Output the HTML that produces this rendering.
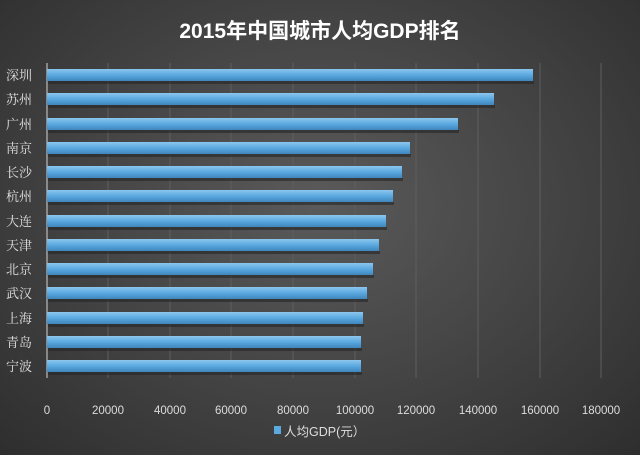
<!DOCTYPE html>
<html><head><meta charset="utf-8"><style>
body{margin:0;width:640px;height:455px;overflow:hidden;background:radial-gradient(ellipse at 50% 45%,#5a5a5a 0%,#474747 45%,#2e2e2e 100%);font-family:"Liberation Sans","Noto Sans CJK SC",sans-serif;}
</style></head><body>
<svg width="640" height="455" xmlns="http://www.w3.org/2000/svg" style="position:absolute;left:0;top:0">
<defs><linearGradient id="b" x1="0" y1="0" x2="0" y2="1"><stop offset="0" stop-color="#8cc6ee"/><stop offset="0.5" stop-color="#5aa9e0"/><stop offset="1" stop-color="#3f86bd"/></linearGradient></defs>
<text x="320" y="38" fill="#fff" font-size="21" font-weight="bold" text-anchor="middle" font-family="Liberation Sans,Noto Sans CJK SC,sans-serif">2015年中国城市人均GDP排名</text>
<g stroke="#5e5e5e" stroke-width="1">
<line x1="108" y1="63" x2="108" y2="378"/><line x1="170" y1="63" x2="170" y2="378"/><line x1="231" y1="63" x2="231" y2="378"/><line x1="293" y1="63" x2="293" y2="378"/><line x1="355" y1="63" x2="355" y2="378"/><line x1="416" y1="63" x2="416" y2="378"/><line x1="478" y1="63" x2="478" y2="378"/><line x1="540" y1="63" x2="540" y2="378"/><line x1="601" y1="63" x2="601" y2="378"/>
</g>
<g fill="#262626" opacity="0.6">
<rect x="48" y="81" width="486" height="3"/><rect x="48" y="105" width="447" height="3"/><rect x="48" y="130" width="411" height="3"/><rect x="48" y="154" width="363" height="3"/><rect x="48" y="178" width="355" height="3"/><rect x="48" y="202" width="346" height="3"/><rect x="48" y="227" width="339" height="3"/><rect x="48" y="251" width="332" height="3"/><rect x="48" y="275" width="326" height="3"/><rect x="48" y="299" width="320" height="3"/><rect x="48" y="324" width="316" height="3"/><rect x="48" y="348" width="314" height="3"/><rect x="48" y="372" width="314" height="3"/>
</g>
<line x1="47" y1="63" x2="47" y2="378" stroke="#bbb" stroke-width="1.2"/>
<g fill="url(#b)">
<rect x="47" y="69" width="486" height="12"/><rect x="47" y="93" width="447" height="12"/><rect x="47" y="118" width="411" height="12"/><rect x="47" y="142" width="363" height="12"/><rect x="47" y="166" width="355" height="12"/><rect x="47" y="190" width="346" height="12"/><rect x="47" y="215" width="339" height="12"/><rect x="47" y="239" width="332" height="12"/><rect x="47" y="263" width="326" height="12"/><rect x="47" y="287" width="320" height="12"/><rect x="47" y="312" width="316" height="12"/><rect x="47" y="336" width="314" height="12"/><rect x="47" y="360" width="314" height="12"/>
</g>
<g fill="#e0e0e0" font-size="13" font-family="Liberation Serif,Noto Serif CJK SC,serif" text-anchor="end">
<text x="32" y="80">深圳</text><text x="32" y="104">苏州</text><text x="32" y="129">广州</text><text x="32" y="153">南京</text><text x="32" y="177">长沙</text><text x="32" y="201">杭州</text><text x="32" y="226">大连</text><text x="32" y="250">天津</text><text x="32" y="274">北京</text><text x="32" y="298">武汉</text><text x="32" y="323">上海</text><text x="32" y="347">青岛</text><text x="32" y="371">宁波</text>
</g>
<g fill="#ddd" font-size="11.5" text-anchor="middle">
<text x="47" y="414">0</text><text x="108" y="414">20000</text><text x="170" y="414">40000</text><text x="231" y="414">60000</text><text x="293" y="414">80000</text><text x="355" y="414">100000</text><text x="416" y="414">120000</text><text x="478" y="414">140000</text><text x="540" y="414">160000</text><text x="601" y="414">180000</text>
</g>
<rect x="274" y="426" width="7" height="8" fill="#5aa9e0"/>
<text x="284" y="436" fill="#ddd" font-size="12.5">人均GDP(元）</text>
</svg>
</body></html>
